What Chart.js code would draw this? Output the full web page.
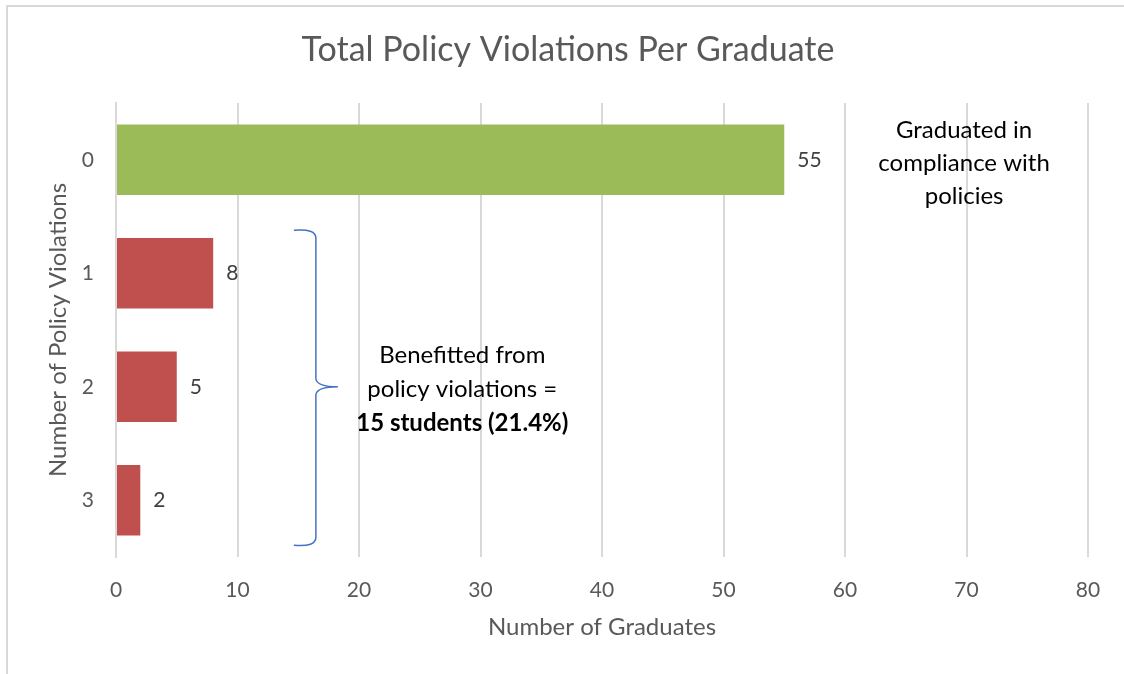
<!DOCTYPE html>
<html>
<head>
<meta charset="utf-8">
<script src="https://cdn.jsdelivr.net/npm/chart.js@4"></script>
<style>
  html, body { margin: 0; padding: 0; background: #fff; }
  #wrap { position: relative; width: 1124px; height: 674px; }
</style>
</head>
<body>
<div id="wrap"><canvas id="chart" width="1124" height="674"></canvas></div>
<script>
// data
const categories = ['0', '1', '2', '3'];
const graduates = [55, 8, 5, 2];
const barColors = ['#9BBB59', '#C0504D', '#C0504D', '#C0504D'];
const xTicks = [0, 10, 20, 30, 40, 50, 60, 70, 80];
const noteTop = ['Graduated in', 'compliance with', 'policies'];
const noteBrace = ['Benefitted from', 'policy violations =', '15 students (21.4%)'];

const FONT = 'Lato, "Open Sans", sans-serif';
const GREY = '#595959';

// title, frame, value labels, brace and notes
const extras = {
    id: 'extras',
    afterDraw(chart) {
        const ctx = chart.ctx;
        const x = chart.scales.x, y = chart.scales.y;
        ctx.save();

        // frame (left + top edge of the chart box)
        ctx.strokeStyle = '#d9d9d9'; ctx.lineWidth = 2;
        ctx.beginPath(); ctx.moveTo(7, 674); ctx.lineTo(7, 6); ctx.lineTo(1124, 6); ctx.stroke();

        // title
        ctx.fillStyle = GREY; ctx.textAlign = 'center'; ctx.textBaseline = 'middle';
        ctx.font = '34px ' + FONT;
        ctx.fillText('Total Policy Violations Per Graduate', 568, 50);

        // value labels
        ctx.font = '21px ' + FONT; ctx.fillStyle = '#404040'; ctx.textAlign = 'left';
        const meta = chart.getDatasetMeta(0);
        meta.data.forEach((bar, i) => {
            ctx.fillText(String(graduates[i]), bar.x + 13, bar.y);
        });

        // brace spanning categories 1..3
        const bx = x.getPixelForValue(16.45);
        const yTop = y.getPixelForValue(1) - 43;
        const yBot = y.getPixelForValue(3) + 45;
        const yMid = y.getPixelForValue(2);
        const r = 8;
        ctx.strokeStyle = '#4472C4'; ctx.lineWidth = 1.5;
        ctx.beginPath();
        ctx.moveTo(bx - 22, yTop);
        ctx.quadraticCurveTo(bx, yTop - 2, bx, yTop + r);
        ctx.lineTo(bx, yMid - r);
        ctx.quadraticCurveTo(bx + 1, yMid, bx + 22, yMid);
        ctx.moveTo(bx + 22, yMid);
        ctx.quadraticCurveTo(bx + 1, yMid, bx, yMid + r);
        ctx.lineTo(bx, yBot - r);
        ctx.quadraticCurveTo(bx, yBot + 2, bx - 22, yBot);
        ctx.stroke();

        // notes
        ctx.fillStyle = '#000'; ctx.textAlign = 'center';
        const nx = x.getPixelForValue(28.5);
        noteBrace.forEach((t, i) => {
            ctx.font = (i === 2 ? 'bold ' : '') + '24px ' + FONT;
            ctx.fillText(t, nx, yMid - 31 + i * 34);
        });
        const tx = x.getPixelForValue(69.8);
        ctx.font = '24px ' + FONT;
        noteTop.forEach((t, i) => {
            ctx.fillText(t, tx, y.getPixelForValue(0) - 29 + i * 33);
        });
        ctx.restore();
    }
};

new Chart(document.getElementById('chart'), {
    type: 'bar',
    data: {
        labels: categories,
        datasets: [{
            data: graduates,
            backgroundColor: barColors,
            barPercentage: 0.62,
            categoryPercentage: 1
        }]
    },
    options: {
        indexAxis: 'y',
        responsive: false,
        animation: false,
        layout: { padding: { top: 103, right: 36, left: 0, bottom: 0 } },
        plugins: { legend: { display: false }, tooltip: { enabled: false }, title: { display: false } },
        scales: {
            x: {
                min: 0, max: 80,
                afterFit(s) { s.height = 117; },
                afterBuildTicks(s) { s.ticks = xTicks.map(v => ({ value: v })); },
                grid: { color: '#d9d9d9', lineWidth: 2, drawTicks: false },
                border: { display: false },
                ticks: { color: GREY, font: { family: FONT, size: 21 }, padding: 21 },
                title: { display: true, text: 'Number of Graduates', color: GREY,
                         font: { family: FONT, size: 24 }, padding: { top: 0, bottom: 32 } }
            },
            y: {
                afterFit(s) { s.width = 116; },
                grid: { display: false, drawTicks: false },
                border: { display: true, color: '#d9d9d9', width: 2 },
                ticks: { color: GREY, font: { family: FONT, size: 21 }, padding: 22 },
                title: { display: true, text: 'Number of Policy Violations', color: GREY,
                         font: { family: FONT, size: 24 }, padding: { top: 44, bottom: 0 } }
            }
        }
    },
    plugins: [extras]
});
</script>
</body>
</html>
